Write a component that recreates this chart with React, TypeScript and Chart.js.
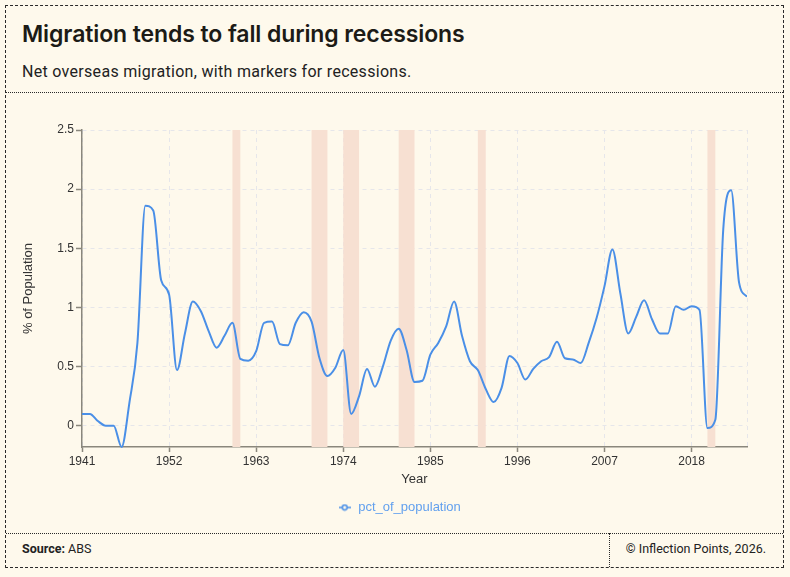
import React, { useEffect, useRef } from "react";
import { Chart, registerables } from "chart.js";

Chart.register(...registerables);

// ---- data ----
const years = [
  1941, 1942, 1943, 1944, 1945, 1946, 1947, 1948, 1949, 1950,
  1951, 1952, 1953, 1954, 1955, 1956, 1957, 1958, 1959, 1960,
  1961, 1962, 1963, 1964, 1965, 1966, 1967, 1968, 1969, 1970,
  1971, 1972, 1973, 1974, 1975, 1976, 1977, 1978, 1979, 1980,
  1981, 1982, 1983, 1984, 1985, 1986, 1987, 1988, 1989, 1990,
  1991, 1992, 1993, 1994, 1995, 1996, 1997, 1998, 1999, 2000,
  2001, 2002, 2003, 2004, 2005, 2006, 2007, 2008, 2009, 2010,
  2011, 2012, 2013, 2014, 2015, 2016, 2017, 2018, 2019, 2020,
  2021, 2022, 2023, 2024, 2025,
];

const pctOfPopulation = [
  0.10, 0.10, 0.04, 0.0, 0.0, -0.18, 0.2, 0.7, 1.86, 1.82,
  1.23, 1.11, 0.47, 0.78, 1.05, 0.97, 0.8, 0.66, 0.76, 0.87,
  0.565, 0.55, 0.63, 0.87, 0.88, 0.69, 0.68, 0.87, 0.96, 0.88,
  0.57, 0.42, 0.49, 0.64, 0.1, 0.25, 0.48, 0.33, 0.5, 0.72,
  0.82, 0.64, 0.37, 0.38, 0.6, 0.7, 0.84, 1.05, 0.76, 0.545,
  0.47, 0.31, 0.2, 0.32, 0.59, 0.53, 0.39, 0.48, 0.545, 0.58,
  0.71, 0.57, 0.56, 0.53, 0.7, 0.91, 1.18, 1.49, 1.12, 0.78,
  0.92, 1.06, 0.9, 0.78, 0.78, 1.01, 0.98, 1.01, 0.98, -0.02,
  0.05, 1.66, 1.99, 1.21, 1.09,
];

const recessionStarts = [1960, 1970, 1974, 1981, 1991, 2020];
const recessionEnds = [1961, 1972, 1976, 1983, 1992, 2021];

const xTickYears = [1941, 1952, 1963, 1974, 1985, 1996, 2007, 2018];
const yTickValues = [0, 0.5, 1, 1.5, 2, 2.5];
const xMin = 1941;
const xMax = 2025;
const yMax = 2.5;

// ---- styles ----
const BG = "#fef9ec";
const LINE = "#4a8fe7";
const LEGEND_TEXT = "#62a0ee";
const BAND = "#f7e0d2";
const GRID = "#e6e6ea";
const AXIS = "#8a877c";
const TEXT = "#333333";
const CHART_FONT = "'Liberation Sans', Arial, Helvetica, sans-serif";

const recessionPlugin = {
  id: "recessionBands",
  beforeDatasetsDraw(chart: any) {
    const { ctx, chartArea, scales } = chart;
    ctx.save();
    ctx.fillStyle = BAND;
    recessionStarts.forEach((s, i) => {
      const x0 = scales.x.getPixelForValue(s);
      const x1 = scales.x.getPixelForValue(recessionEnds[i]);
      ctx.fillRect(x0, chartArea.top, x1 - x0, chartArea.bottom - chartArea.top);
    });
    ctx.restore();
  },
};

function ChartCanvas() {
  const ref = useRef<HTMLCanvasElement | null>(null);

  useEffect(() => {
    if (!ref.current) return;

    const marker = document.createElement("canvas");
    marker.width = 12;
    marker.height = 8;
    const m = marker.getContext("2d")!;
    m.strokeStyle = LINE;
    m.lineWidth = 1.5;
    m.beginPath();
    m.moveTo(0, 4);
    m.lineTo(12, 4);
    m.stroke();
    m.beginPath();
    m.arc(6, 4, 2.4, 0, Math.PI * 2);
    m.fillStyle = BG;
    m.fill();
    m.stroke();

    const chart = new Chart(ref.current, {
      type: "line",
      data: {
        datasets: [
          {
            label: "pct_of_population",
            data: years.map((yr, i) => ({ x: yr, y: pctOfPopulation[i] })),
            borderColor: LINE,
            backgroundColor: LINE,
            borderWidth: 2,
            pointRadius: 0,
            pointHoverRadius: 0,
            cubicInterpolationMode: "monotone",
            fill: false,
          },
        ],
      },
      options: {
        animation: false,
        responsive: false,
        maintainAspectRatio: false,
        layout: { padding: { left: 10.5, right: 0, top: 37, bottom: 9 } },
        plugins: {
          tooltip: { enabled: false },
          legend: {
            position: "bottom",
            labels: {
              usePointStyle: true,
              pointStyle: marker as any,
              pointStyleWidth: 14,
              color: LEGEND_TEXT,
              padding: 10,
              font: { size: 13, family: CHART_FONT },
            },
          },
        },
        scales: {
          x: {
            type: "linear",
            min: xMin,
            max: xMax,
            afterBuildTicks: (axis: any) => {
              axis.ticks = [...xTickYears, xMax].map((v) => ({ value: v }));
            },
            afterFit: (s: any) => {
              s.height = 44;
            },
            ticks: {
              autoSkip: false,
              maxRotation: 0,
              padding: 2,
              color: TEXT,
              font: { size: 12, family: CHART_FONT },
              callback: (v: any) => (xTickYears.includes(Number(v)) ? String(v) : ""),
            },
            title: {
              display: true,
              text: "Year",
              color: TEXT,
              font: { size: 13, family: CHART_FONT },
            },
            grid: {
              color: GRID,
              lineWidth: 1,
              tickLength: 5,
              tickWidth: 1.5,
              tickColor: (c: any) =>
                c.tick && c.tick.value === xMax ? "rgba(0,0,0,0)" : AXIS,
            },
            border: { display: true, color: AXIS, width: 1.5, dash: [4, 4] },
          },
          y: {
            type: "linear",
            bounds: "data",
            max: yMax,
            afterBuildTicks: (axis: any) => {
              axis.ticks = yTickValues.map((v) => ({ value: v }));
            },
            afterFit: (s: any) => {
              s.width = 65.5;
            },
            ticks: {
              padding: 2,
              color: TEXT,
              font: { size: 12, family: CHART_FONT },
              callback: (v: any) => String(v),
            },
            title: {
              display: true,
              text: "% of Population",
              color: TEXT,
              font: { size: 13, family: CHART_FONT },
            },
            grid: {
              color: GRID,
              lineWidth: 1,
              tickLength: 6,
              tickWidth: 1.5,
              tickColor: AXIS,
            },
            border: { display: true, color: AXIS, width: 1.5, dash: [4, 4] },
          },
          yRightSpace: {
            type: "linear",
            position: "right",
            display: true,
            grid: { display: false, drawTicks: false },
            border: { display: false },
            ticks: { display: false },
            afterFit: (s: any) => {
              s.width = 35;
            },
          },
        },
      } as any,
      plugins: [recessionPlugin],
    });

    return () => chart.destroy();
  }, []);

  return (
    <canvas
      ref={ref}
      width={776}
      height={440}
      style={{ display: "block", width: 776, height: 440 }}
    />
  );
}

export default function App() {
  const dark = "#1c1b16";
  return (
    <div
      style={{
        position: "absolute",
        left: 0,
        top: 0,
        width: 790,
        height: 577,
        background: BG,
        overflow: "hidden",
        fontFamily: "Roboto, 'Noto Sans', sans-serif",
        color: dark,
      }}
    >
      <div
        style={{
          position: "absolute",
          left: 5,
          top: 5,
          width: 779,
          height: 563,
          border: "1px dashed #2a2a2a",
          boxSizing: "border-box",
        }}
      />
      <div
        style={{
          position: "absolute",
          left: 22,
          top: 20,
          fontFamily: "Inter, Roboto, sans-serif",
          fontWeight: 600,
          fontSize: 23,
          lineHeight: "28px",
          letterSpacing: "-0.1px",
          whiteSpace: "nowrap",
        }}
      >
        Migration tends to fall during recessions
      </div>
      <div
        style={{
          position: "absolute",
          left: 22,
          top: 62,
          fontSize: 16,
          lineHeight: "20px",
          letterSpacing: "0.3px",
          whiteSpace: "nowrap",
          color: "#222",
        }}
      >
        Net overseas migration, with markers for recessions.
      </div>
      <div
        style={{
          position: "absolute",
          left: 6,
          top: 92,
          width: 777,
          height: 0,
          borderTop: "1px dotted #2a2a2a",
        }}
      />
      <div style={{ position: "absolute", left: 6, top: 93, width: 776, height: 440 }}>
        <ChartCanvas />
      </div>
      <div
        style={{
          position: "absolute",
          left: 6,
          top: 533,
          width: 777,
          height: 0,
          borderTop: "1px dotted #2a2a2a",
        }}
      />
      <div
        style={{
          position: "absolute",
          left: 609,
          top: 533,
          width: 0,
          height: 34,
          borderLeft: "1px dotted #2a2a2a",
        }}
      />
      <div
        style={{
          position: "absolute",
          left: 22,
          top: 541,
          fontSize: 12.5,
          lineHeight: "16px",
          whiteSpace: "nowrap",
          color: "#222",
        }}
      >
        <span style={{ fontWeight: 700 }}>Source:</span> ABS
      </div>
      <div
        style={{
          position: "absolute",
          right: 24,
          top: 541,
          fontSize: 12.5,
          lineHeight: "16px",
          whiteSpace: "nowrap",
          color: "#222",
        }}
      >
        © Inflection Points, 2026.
      </div>
    </div>
  );
}
